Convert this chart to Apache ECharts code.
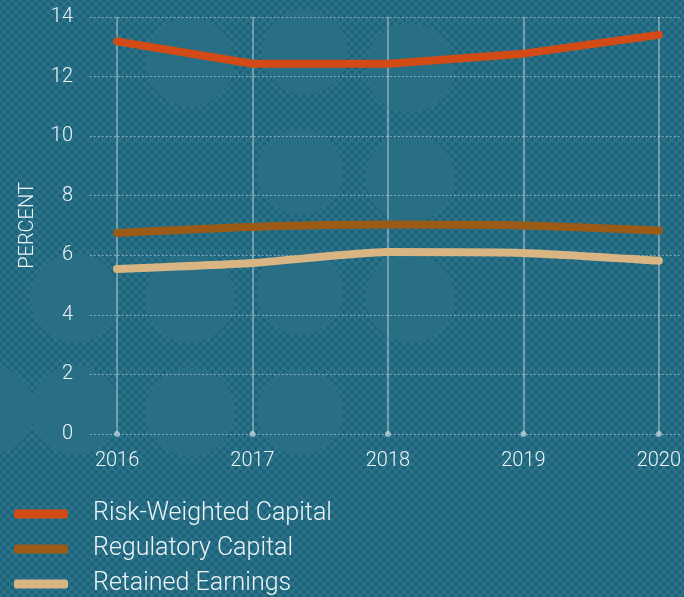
<!DOCTYPE html>
<html>
<head>
<meta charset="utf-8">
<script src="https://cdn.jsdelivr.net/npm/echarts@6/dist/echarts.min.js"></script>
<style>
html, body { margin: 0; padding: 0; }
body {
    width: 684px; height: 597px; overflow: hidden;
    background-color: #29748c;
    background-image:
        radial-gradient(circle at 190px 62px, #286e84 44px, transparent 45px),
        radial-gradient(circle at 305px 52px, #286e84 42px, transparent 43px),
        radial-gradient(circle at 410px 68px, #286e84 44px, transparent 45px),
        radial-gradient(circle at 300px 172px, #286e84 42px, transparent 43px),
        radial-gradient(circle at 410px 178px, #286e84 44px, transparent 45px),
        radial-gradient(circle at 75px 298px, #286e84 44px, transparent 45px),
        radial-gradient(circle at 190px 298px, #286e84 44px, transparent 45px),
        radial-gradient(circle at 300px 292px, #286e84 42px, transparent 43px),
        radial-gradient(circle at 410px 298px, #286e84 44px, transparent 45px),
        radial-gradient(circle at 75px 410px, #286e84 44px, transparent 45px),
        radial-gradient(circle at 190px 412px, #286e84 44px, transparent 45px),
        radial-gradient(circle at 300px 412px, #286e84 42px, transparent 43px),
        radial-gradient(circle at -10px 410px, #286e84 44px, transparent 45px),
        radial-gradient(circle, rgba(24,82,102,0.55) 1.6px, transparent 2.6px),
        radial-gradient(circle, rgba(24,82,102,0.55) 1.6px, transparent 2.6px);
    background-size: auto, auto, auto, auto, auto, auto, auto, auto, auto, auto, auto, auto, auto, 8px 8px, 8px 8px;
    background-position: 0 0, 0 0, 0 0, 0 0, 0 0, 0 0, 0 0, 0 0, 0 0, 0 0, 0 0, 0 0, 0 0, 0 0, 4px 4px;
}
#chart { width: 684px; height: 597px; }
</style>
</head>
<body>
<div id="chart"></div>
<script>
const chart = echarts.init(document.getElementById("chart"));

// data
var years = [2016, 2017, 2018, 2019, 2020];
var riskWeighted = [13.18, 12.43, 12.43, 12.77, 13.4];
var regulatory = [6.75, 6.95, 7.03, 7.0, 6.83];
var retained = [5.54, 5.74, 6.11, 6.08, 5.82];
var seriesNames = ["Risk-Weighted Capital", "Regulatory Capital", "Retained Earnings"];

var font = "Roboto";
var textColor = "#eef4f6";

function pairs(vals) {
    return years.map(function (y, i) { return [y, vals[i]]; });
}

var option = {
    animation: false,
    backgroundColor: "transparent",
    grid: {
        left: 90,
        right: 0,
        top: 17,
        bottom: 163
    },
    xAxis: {
        type: 'value',
        min: 2015.8,
        max: 2020.154,
        axisLine: { show: false },
        axisTick: { show: false, customValues: years },
        axisLabel: {
            customValues: years,
            color: textColor,
            fontFamily: font,
            fontWeight: 300,
            fontSize: 20,
            margin: 17,
            formatter: function (v) { return String(v); }
        },
        splitLine: {
            show: true,
            lineStyle: { color: "rgba(255,255,255,0.45)", width: 1.5, type: 'solid' }
        }
    },
    yAxis: {
        type: 'value',
        min: 0,
        max: 14,
        interval: 2,
        name: "PERCENT",
        nameLocation: 'middle',
        nameRotate: 90,
        nameGap: 52,
        nameTextStyle: { color: textColor, fontFamily: font, fontWeight: 300, fontSize: 20 },
        axisLine: { show: false },
        axisTick: { show: false },
        axisLabel: {
            color: textColor,
            fontFamily: font,
            fontWeight: 300,
            fontSize: 20,
            margin: 17
        },
        splitLine: {
            lineStyle: { color: "rgba(255,255,255,0.55)", width: 1.2, type: [1.5, 2.5] }
        }
    },
    legend: {
        orient: 'vertical',
        left: 14,
        top: 501,
        height: 100,
        padding: 0,
        itemWidth: 54,
        itemHeight: 9,
        itemGap: 9,
        icon: 'roundRect',
        textStyle: {
            color: textColor,
            fontFamily: font,
            fontWeight: 300,
            fontSize: 25,
            lineHeight: 26,
            padding: [0, 0, 0, 20]
        },
        data: seriesNames
    },
    series: [
        {
            name: seriesNames[0],
            type: 'line',
            data: pairs(riskWeighted),
            color: "#d24b17",
            symbol: 'none',
            lineStyle: { width: 8, cap: 'round', join: 'round' },
            z: 5
        },
        {
            name: seriesNames[1],
            type: 'line',
            data: pairs(regulatory),
            color: "#9b5a15",
            smooth: 0.3,
            symbol: 'none',
            lineStyle: { width: 8, cap: 'round', join: 'round' },
            z: 4
        },
        {
            name: seriesNames[2],
            type: 'line',
            data: pairs(retained),
            color: "#d8b583",
            smooth: 0.2,
            symbol: 'none',
            lineStyle: { width: 8, cap: 'round', join: 'round' },
            z: 3
        },
        {
            // little dots where the year lines meet the zero line
            name: "ticks",
            type: 'scatter',
            data: years.map(function (y) { return [y, 0]; }),
            symbol: 'circle',
            symbolSize: 6,
            itemStyle: { color: "rgba(220,235,240,0.75)" },
            silent: true,
            z: 2
        }
    ]
};
chart.setOption(option);
</script>
</body>
</html>
